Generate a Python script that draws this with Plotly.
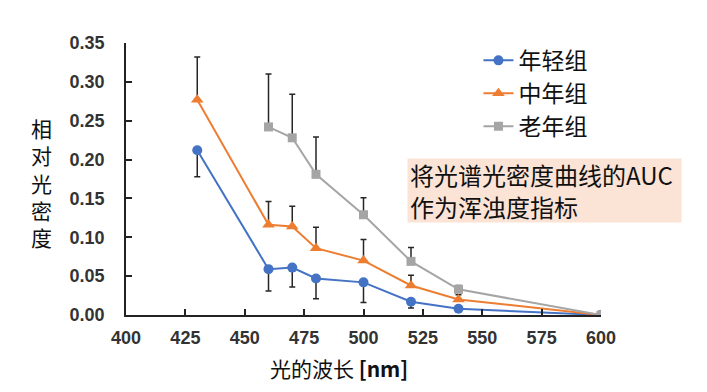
import plotly.graph_objects as go

wavelength = [430, 460, 470, 480, 500, 520, 540, 600]
wavelength_old = [460, 470, 480, 500, 520, 540, 600]

young = [0.212, 0.059, 0.061, 0.047, 0.042, 0.017, 0.008, 0.0]
young_err_minus = [0.034, 0.028, 0.025, 0.026, 0.026, 0.008, 0.003, 0.0]

middle = [0.277, 0.116, 0.114, 0.086, 0.070, 0.038, 0.020, 0.0]
middle_err_plus = [0.055, 0.030, 0.026, 0.027, 0.027, 0.013, 0.006, 0.0]

old = [0.242, 0.228, 0.181, 0.129, 0.069, 0.033, 0.0]
old_err_plus = [0.068, 0.056, 0.048, 0.022, 0.018, 0.005, 0.0]

names = ["年轻组", "中年组", "老年组"]
colors = ["#4472C4", "#ED7D31", "#A5A5A5"]
err_color = "#262626"
y_title_chars = ["相", "对", "光", "密", "度"]
x_title = "光的波长 <b>[nm]</b>"
note = "将光谱光密度曲线的AUC<br>作为浑浊度指标"

tick_font = dict(family="Liberation Sans, Arial, sans-serif", size=18, color="#333333", weight="bold")
cjk = "Noto Sans CJK SC"

fig = go.Figure()
fig.add_trace(go.Scatter(
    x=wavelength, y=young, name=names[0], mode="lines+markers",
    line=dict(color=colors[0], width=2),
    marker=dict(symbol="circle", size=10, color=colors[0]),
    error_y=dict(type="data", symmetric=False, array=[0]*len(young),
                 arrayminus=young_err_minus, color=err_color, thickness=1.5, width=3),
))
fig.add_trace(go.Scatter(
    x=wavelength, y=middle, name=names[1], mode="lines+markers",
    line=dict(color=colors[1], width=2),
    marker=dict(symbol="triangle-up", size=11, color=colors[1]),
    error_y=dict(type="data", symmetric=False, array=middle_err_plus,
                 arrayminus=[0]*len(middle), color=err_color, thickness=1.5, width=3),
))
fig.add_trace(go.Scatter(
    x=wavelength_old, y=old, name=names[2], mode="lines+markers",
    line=dict(color=colors[2], width=2),
    marker=dict(symbol="square", size=9, color=colors[2]),
    error_y=dict(type="data", symmetric=False, array=old_err_plus,
                 arrayminus=[0]*len(old), color=err_color, thickness=1.5, width=3),
))

# plot area: 475 x 272 px
PW, PH = 475.0, 272.0
annotations = [
    dict(text="<br>".join(y_title_chars), xref="paper", yref="paper",
         x=-85 / PW, y=1 - (182 - 43) / PH, xanchor="center", yanchor="middle",
         showarrow=False, font=dict(family=cjk, size=21, color="#111111")),
    dict(text=x_title, xref="paper", yref="paper",
         x=(339 - 126) / PW, y=-(367.5 - 315) / PH, xanchor="center", yanchor="middle",
         showarrow=False, font=dict(family=cjk, size=21, color="#111111")),
    dict(text=note, xref="paper", yref="paper",
         x=(407 - 126) / PW, y=(315 - 158) / PH, xanchor="left", yanchor="top",
         align="left", showarrow=False, bgcolor="#FBE3D6", borderpad=2,
         width=269, height=59,
         font=dict(family=cjk, size=24, color="#111111")),
]

fig.update_layout(
    width=691, height=376,
    margin=dict(l=118, r=98, t=35, b=69),
    paper_bgcolor="white", plot_bgcolor="white",
    showlegend=True,
    legend=dict(x=0.742, y=1.015, xanchor="left", yanchor="top",
                bgcolor="rgba(0,0,0,0)", font=dict(family=cjk, size=23, color="#111111"),
                itemwidth=30, tracegroupgap=0),
    xaxis=dict(range=[400, 600], dtick=25, tick0=400, showgrid=False, zeroline=False,
               showline=True, linecolor="#222222", linewidth=1.5, automargin=False,
               ticks="inside", ticklen=6, tickcolor="#222222", tickwidth=1.5,
               tickfont=tick_font, ticklabelstandoff=6),
    yaxis=dict(range=[0, 0.35], dtick=0.05, tickformat=".2f", showgrid=False, zeroline=False,
               showline=True, linecolor="#222222", linewidth=1.5, automargin=False,
               ticks="inside", ticklen=6, tickcolor="#222222", tickwidth=1.5,
               tickfont=tick_font, ticklabelstandoff=16),
    annotations=annotations,
)

fig.write_html("out.html")
